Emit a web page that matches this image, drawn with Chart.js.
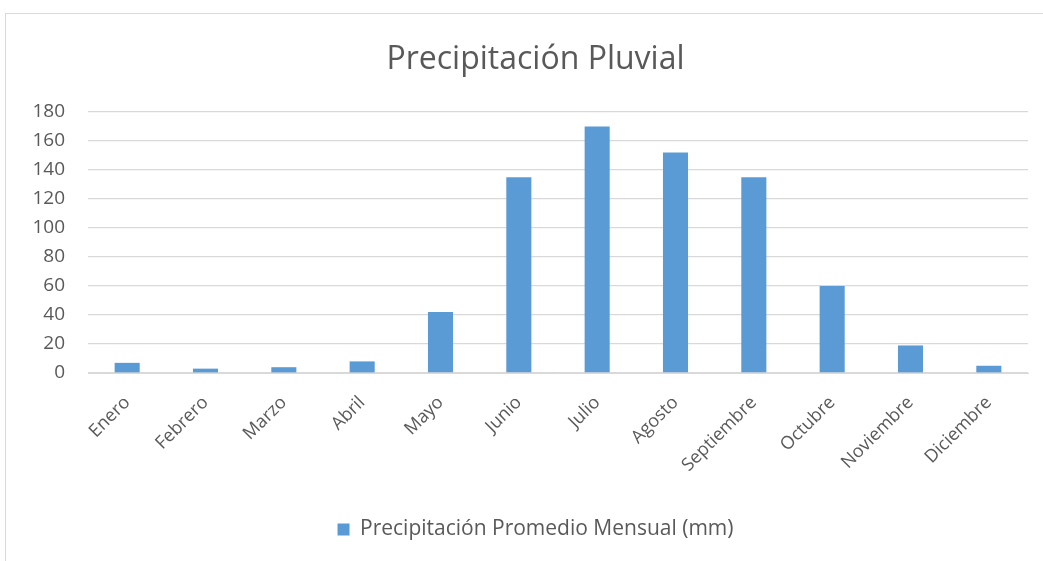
<!DOCTYPE html>
<html>
<head>
<meta charset="utf-8">
<script src="https://cdn.jsdelivr.net/npm/chart.js@4/dist/chart.umd.min.js"></script>
<style>
  html, body { margin: 0; padding: 0; background: #ffffff; }
  #wrap { position: relative; width: 1043px; height: 561px; }
</style>
</head>
<body>
<div id="wrap"><canvas id="c" width="1043" height="561"></canvas></div>
<script>
const months = ['Enero', 'Febrero', 'Marzo', 'Abril', 'Mayo', 'Junio', 'Julio',
  'Agosto', 'Septiembre', 'Octubre', 'Noviembre', 'Diciembre'];
const rainfall = [7, 3, 4, 8, 42, 135, 170, 152, 135, 60, 19, 5];
const seriesName = 'Precipitación Promedio Mensual (mm)';
const chartTitle = 'Precipitación Pluvial';

const FONT = "'Open Sans', 'Liberation Sans', sans-serif";
const TEXT = '#595959';
const GRID = '#d9d9d9';

// thin frame around the chart object
const framePlugin = {
  id: 'frame',
  beforeDraw(chart) {
    const ctx = chart.ctx;
    ctx.save();
    ctx.strokeStyle = GRID;
    ctx.lineWidth = 1;
    ctx.strokeRect(5.5, 13.5, 1100, 600);
    ctx.restore();
  }
};

new Chart(document.getElementById('c'), {
  type: 'bar',
  data: {
    labels: months,
    datasets: [{
      label: seriesName,
      data: rainfall,
      backgroundColor: '#5b9bd5',
      borderWidth: 0,
      categoryPercentage: 0.64,
      barPercentage: 0.5
    }]
  },
  options: {
    responsive: false,
    animation: false,
    layout: { padding: { top: 0, right: 15, bottom: 11, left: 43 } },
    plugins: {
      title: {
        display: true,
        text: chartTitle,
        color: TEXT,
        font: { family: FONT, size: 32, weight: 'normal' },
        padding: { top: 41, bottom: 32.6 }
      },
      legend: {
        position: 'bottom',
        labels: {
          color: TEXT,
          font: { family: FONT, size: 21 },
          boxWidth: 12,
          boxHeight: 12,
          padding: 9.5
        }
      },
      tooltip: { enabled: false }
    },
    scales: {
      x: {
        grid: { display: false, drawTicks: false },
        border: { color: GRID, width: 1 },
        ticks: {
          color: TEXT,
          font: { family: FONT, size: 18 },
          maxRotation: 45,
          minRotation: 45,
          padding: 19
        },
        afterFit(axis) { axis.height = 136.5; }
      },
      y: {
        min: 0,
        max: 180,
        grid: { color: GRID, lineWidth: 1.3, drawTicks: false },
        border: { display: false },
        ticks: {
          stepSize: 20,
          color: TEXT,
          font: { family: FONT, size: 19 },
          padding: 23
        },
        afterFit(axis) {
          axis.width = 45;
          // tick labels extend left of the narrow axis box; don't clip them
          axis._computeLabelArea = () => undefined;
        }
      }
    }
  },
  plugins: [framePlugin]
});
</script>
</body>
</html>
